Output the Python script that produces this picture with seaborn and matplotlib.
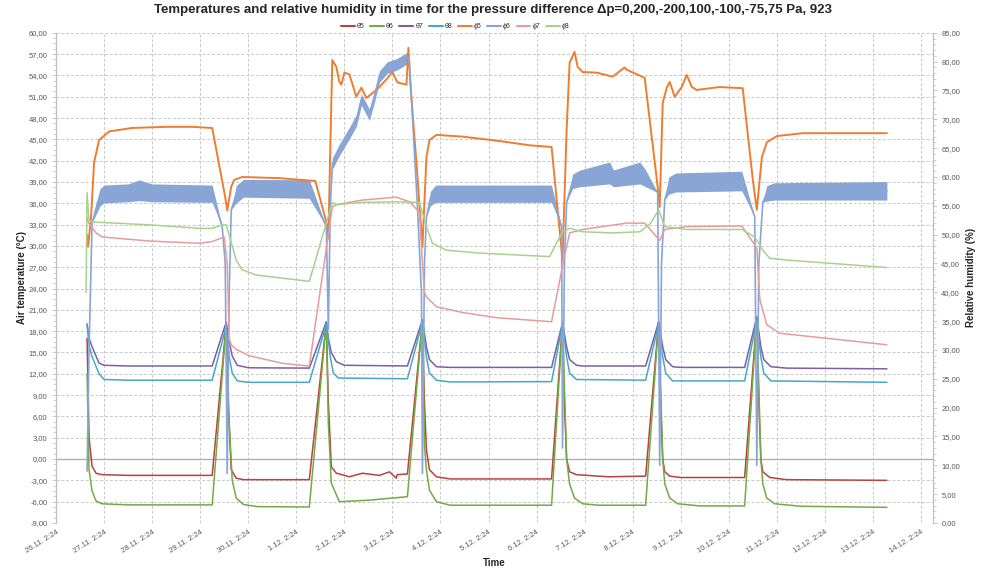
import pandas as pd
import seaborn as sns
import matplotlib.pyplot as plt
import matplotlib.ticker as mticker
from matplotlib.lines import Line2D

start = pd.Timestamp('2024-11-26 02:24')

# days since 26.11. 2:24 and air temperatures (°C)
t5_days = [0.646, 0.667, 0.6875, 0.75, 0.833, 0.958, 1.5, 3.25, 3.542, 3.583, 3.646, 3.75, 3.9, 5.271,
           5.625, 5.667, 5.729, 5.833, 5.896, 6.104, 6.375, 6.73, 6.94, 7.08, 7.1, 7.3125, 7.625, 7.667,
           7.708, 7.771, 7.917, 8.2, 10.3125, 10.54, 10.58, 10.625, 10.6875, 10.83, 11.5, 12.27, 12.54,
           12.583, 12.625, 12.667, 12.77, 13.0, 14.33, 14.583, 14.625, 14.667, 14.708, 14.854, 15.2, 17.29]
t5_vals = [17, 10, 3, -1.0, -2.0, -2.2, -2.3, -2.3, 19.0, 8, -1.5, -2.7, -2.9, -2.9,
           19.2, 8, -1.1, -2.0, -2.1, -2.5, -2.0, -2.3, -1.8, -2.7, -2.2, -2.1, 19.5, 7.9,
           1.3, -1.5, -2.5, -2.8, -2.8, 19.2, 8, 0, -1.8, -2.2, -2.5, -2.4, 19.3,
           8, 0, -1.8, -2.4, -2.6, -2.6, 20.0, 8, 0, -1.8, -2.6, -2.9, -3.0]

t6_days = [0.646, 0.6875, 0.75, 0.833, 0.958, 1.5, 3.25, 3.542, 3.604, 3.667, 3.75, 3.9, 4.2, 5.271,
           5.625, 5.667, 5.729, 5.896, 6.5, 7.3125, 7.625, 7.667, 7.708, 7.771, 7.917, 8.2, 10.3125,
           10.54, 10.625, 10.6875, 10.79, 10.96, 11.3, 12.27, 12.54, 12.625, 12.667, 12.771, 12.94, 13.4,
           14.33, 14.583, 14.667, 14.708, 14.79, 14.96, 15.5, 17.29]
t6_vals = [12, -1.5, -4.5, -5.9, -6.3, -6.45, -6.45, 19.0, 5, -3.0, -5.5, -6.4, -6.7, -6.75,
           19.2, 5, -3.4, -6.0, -5.8, -5.3, 19.5, 2, -1.5, -4.4, -6.0, -6.5, -6.5,
           19.2, 0, -3.5, -5.5, -6.3, -6.5, -6.5, 19.3, 0, -3.5, -5.5, -6.3, -6.6,
           -6.6, 20.0, 0, -3.5, -5.5, -6.3, -6.65, -6.8]

t7_days = [0.646, 0.6875, 0.75, 0.896, 1.0, 1.5, 3.25, 3.542, 3.604, 3.667, 3.771, 4.0, 5.271,
           5.625, 5.667, 5.729, 5.833, 6.0, 7.3125, 7.625, 7.708, 7.771, 7.917, 8.2, 10.3125,
           10.54, 10.625, 10.6875, 10.83, 10.96, 12.27, 12.54, 12.625, 12.6875, 12.83, 13.0, 14.33,
           14.583, 14.667, 14.729, 14.875, 15.2, 17.29]
t7_vals = [19, 17, 15.8, 13.5, 13.2, 13.1, 13.1, 19.3, 16.5, 14.5, 13.2, 12.85, 12.8,
           19.3, 17, 15.0, 13.7, 13.2, 13.1, 19.6, 15.8, 14.0, 13.0, 12.9, 12.9,
           19.2, 15.8, 14.0, 13.2, 13.1, 13.1, 19.3, 15.8, 14.0, 13.0, 12.9, 12.9,
           20.0, 15.8, 14.0, 13.0, 12.8, 12.7]

t8_days = [0.646, 0.6875, 0.75, 0.896, 1.0, 1.5, 3.25, 3.542, 3.604, 3.667, 3.771, 4.0, 5.271,
           5.625, 5.708, 5.771, 5.875, 7.3125, 7.625, 7.708, 7.771, 7.917, 8.2, 10.3125,
           10.54, 10.625, 10.6875, 10.83, 12.27, 12.54, 12.625, 12.6875, 12.83, 14.33,
           14.583, 14.667, 14.729, 14.875, 17.29]
t8_vals = [19, 16, 14.4, 12.0, 11.2, 11.1, 11.1, 18.7, 14.4, 12.1, 11.0, 10.8, 10.8,
           19.0, 14.4, 12.1, 11.4, 11.3, 19.3, 14.4, 12.1, 11.1, 10.85, 10.9,
           19.0, 14.4, 12.1, 11.2, 11.1, 19.0, 14.4, 12.1, 11.0, 11.0,
           19.5, 14.4, 12.1, 11.0, 10.8]

# relative humidity (%)
p5_days = [0.646, 0.667, 0.729, 0.792, 0.896, 1.104, 1.583, 2.292, 2.833, 3.25, 3.521, 3.5625, 3.646,
           3.708, 3.875, 4.646, 5.396, 5.625, 5.667, 5.708, 5.75, 5.833, 5.896, 5.9375, 6.0, 6.104,
           6.25, 6.354, 6.458, 6.667, 6.875, 7.0, 7.104, 7.292, 7.333, 7.375, 7.5, 7.625, 7.708,
           7.771, 7.917, 8.458, 9.167, 9.854, 10.3125, 10.54, 10.625, 10.6875, 10.79, 10.854,
           10.958, 11.25, 11.583, 11.833, 11.875, 12.25, 12.52, 12.5625, 12.625, 12.708, 12.771,
           12.875, 13.02, 13.125, 13.23, 13.333, 13.81, 14.29, 14.5, 14.583, 14.6875, 14.79,
           15.0, 15.54, 17.29]
p5_vals = [50, 47.9, 53.0, 62.5, 66.4, 67.9, 68.5, 68.7, 68.7, 68.5, 56.5, 54.2, 58.3,
           59.5, 60.0, 59.8, 59.3, 52.2, 49.3, 65, 80.3, 79.1, 76.5, 76.0, 78.1, 77.8,
           73.9, 75.5, 73.7, 75.1, 76.9, 78.2, 76.4, 76.0, 82.4, 76, 62.5, 47.9, 63.4,
           66.4, 67.3, 67.0, 66.3, 65.5, 65.2, 45.6, 68.1, 79.8, 81.7, 79.1,
           78.2, 78.1, 77.4, 79.0, 78.6, 77.2, 58.3, 54.8, 72.8, 75.5, 76.5,
           73.9, 75.6, 77.7, 75.6, 75.1, 75.6, 75.4, 59.5, 54.3, 63.4, 66.0,
           67.1, 67.6, 67.6]

# φ6 fluctuates, kept as lower / upper envelope
p6_days = [0.646, 0.6875, 0.75, 0.833, 0.917, 1.0, 1.5, 1.73, 2.0, 3.25, 3.458, 3.521, 3.5625, 3.604,
           3.646, 3.75, 3.9, 5.27, 5.625, 5.667, 5.708, 5.75, 5.896, 6.104, 6.25, 6.354, 6.521, 6.625,
           6.729, 6.896, 7.083, 7.25, 7.333, 7.354, 7.52, 7.604, 7.625, 7.667, 7.708, 7.79, 7.9,
           10.31, 10.52, 10.54, 10.58, 10.625, 10.75, 10.9, 11.52, 11.6, 12.15, 12.27, 12.52,
           12.5625, 12.6, 12.667, 12.75, 12.9, 14.27, 14.54, 14.583, 14.625, 14.708, 14.79, 14.95,
           17.29]
p6_low = [9, 30, 52.0, 53.5, 55, 55.5, 55.7, 55.9, 55.7, 55.6, 51.4, 45, 8.6, 40,
          54.3, 55.5, 56.5, 56.3, 51.4, 33.5, 55, 61.3, 63.7, 66.6, 68.8, 72.4, 69.8, 72.9,
          76.4, 78.0, 78.5, 79.3, 79.8, 80, 55, 40, 8.6, 45, 53.1, 55, 55.6,
          55.6, 51.4, 13, 45, 55.6, 58, 58.3, 58.8, 58.3, 58.8, 58.3, 57.3,
          10, 45, 56.0, 57, 57.4, 57.6, 53.1, 10, 45, 55.6, 55.8, 56.0,
          56.0]
p6_high = [9, 30, 52.0, 55.5, 58, 58.6, 58.8, 59.5, 58.8, 58.6, 51.4, 45, 8.6, 40,
           54.3, 58.5, 59.6, 59.5, 51.4, 33.5, 55, 63.3, 65.7, 68.6, 70.8, 74.4, 71.8, 74.9,
           78.4, 80.0, 80.5, 81.3, 81.8, 80, 55, 40, 8.6, 45, 53.1, 57.5, 58.6,
           58.6, 51.4, 13, 45, 55.6, 60.5, 61.2, 62.6, 61.2, 62.6, 61.2, 57.3,
           10, 45, 56.0, 60, 60.7, 61.0, 53.1, 10, 45, 55.6, 58.5, 59.0,
           59.2]

p7_days = [0.646, 0.667, 0.833, 0.958, 1.9375, 2.979, 3.25, 3.5, 3.5625, 3.604, 3.646, 3.75, 4.021,
           4.708, 5.271, 5.75, 5.833, 6.104, 6.375, 7.083, 7.354, 7.5625, 7.625, 7.667, 7.708,
           7.917, 8.458, 9.167, 10.3125, 10.58, 10.6875, 10.958, 11.875, 12.25, 12.5625, 12.667,
           13.125, 14.27, 14.583, 14.646, 14.79, 15.06, 17.29]
p7_vals = [53, 52.2, 50.3, 49.6, 48.9, 48.5, 48.8, 49.6, 45, 32, 30.9, 30.1, 29.0,
           27.7, 27.2, 54.8, 55.2, 55.6, 56.0, 56.5, 55.7, 53.9, 45, 40, 39.2,
           37.5, 36.5, 35.6, 34.9, 46.2, 50.3, 50.9, 52.0, 52.0, 49.0, 50.9,
           51.4, 51.5, 47.7, 38.7, 34.4, 32.9, 30.9]

p8_days = [0.625, 0.646, 0.6875, 0.75, 1.9375, 2.979, 3.25, 3.458, 3.542, 3.75, 3.875, 4.167, 5.271,
           5.75, 5.833, 6.375, 7.083, 7.5625, 7.708, 7.833, 8.125, 8.8125, 10.27, 10.54, 10.6875,
           10.958, 11.583, 12.15, 12.375, 12.54, 12.667, 13.125, 14.27, 14.54, 14.708, 14.854,
           15.2, 17.29]
p8_vals = [40, 57.3, 52.5, 52.2, 51.7, 51.1, 51.1, 51.7, 51.7, 45.6, 43.9, 43.0, 41.9,
           55.6, 55.2, 55.6, 55.7, 55.6, 51.4, 48.5, 47.3, 46.8, 46.2, 50.5, 51.1,
           50.5, 50.3, 50.5, 52.0, 54.3, 51.4, 50.9, 50.9, 49.6, 47.3, 45.9,
           45.6, 44.3]

names = ['θ5', 'θ6', 'θ7', 'θ8', 'ϕ5', 'ϕ6', 'ϕ7', 'ϕ8']
colors = ['#B8423C', '#72AB45', '#7C5EA6', '#45A9C6', '#ED7D31', '#88A5D6', '#E79C9C', '#A9D18E']
title = 'Temperatures and relative humidity in time for the pressure difference Δp=0,200,-200,100,-100,-75,75 Pa, 923'


def series(days, vals):
    return pd.DataFrame({'time': start + pd.to_timedelta(days, unit='D'), 'value': vals})


sns.set_style('white')
plt.rcParams['font.family'] = ['Liberation Sans', 'DejaVu Sans']

fig = plt.figure(figsize=(9.81, 5.78), dpi=100)
ax = fig.add_axes([0.0571, 0.0952, 0.894, 0.848])
ax2 = ax.twinx()

for (d, v), name, c in zip([(t5_days, t5_vals), (t6_days, t6_vals), (t7_days, t7_vals), (t8_days, t8_vals)],
                           names[:4], colors[:4]):
    sns.lineplot(data=series(d, v), x='time', y='value', color=c, linewidth=1.1,
                 estimator=None, legend=False, ax=ax)

sns.lineplot(data=series(p5_days, p5_vals), x='time', y='value', color=colors[4], linewidth=1.4,
             estimator=None, legend=False, ax=ax2)
band = pd.concat([series(p6_days, p6_low), series(p6_days, p6_high)], ignore_index=True)
sns.lineplot(data=band, x='time', y='value', color=colors[5], linewidth=1.2, estimator='mean',
             errorbar=('pi', 100), err_kws={'alpha': 1, 'linewidth': 0}, legend=False, ax=ax2)
for (d, v), c in zip([(p7_days, p7_vals), (p8_days, p8_vals)], colors[6:]):
    sns.lineplot(data=series(d, v), x='time', y='value', color=c, linewidth=1.1,
                 estimator=None, legend=False, ax=ax2)

comma = mticker.FuncFormatter(lambda v, p: f'{v:.2f}'.replace('.', ','))

# left axis
ax.set_ylim(-9, 60)
ax.yaxis.set_major_locator(mticker.MultipleLocator(3))
ax.yaxis.set_minor_locator(mticker.AutoMinorLocator(4))
ax.yaxis.set_major_formatter(comma)
ax.axhline(0, color='#b0b0b0', linewidth=1.0, zorder=1)

# time axis
ticks = pd.date_range(start, periods=19, freq='D')
ax.set_xlim(start, start + pd.Timedelta(days=18.25))
ax.set_xticks(ticks)
ax.set_xticklabels([f'{t.day}.{t.month}. {t.hour}:{t.minute:02d}' for t in ticks],
                   rotation=32, ha='right', rotation_mode='anchor')
ax.grid(True, which='major', color='#c8c8c8', linestyle=(0, (3, 2)), linewidth=0.7)
ax.set_axisbelow(True)

# right axis
ax2.set_ylim(0, 85)
ax2.yaxis.set_major_locator(mticker.MultipleLocator(5))
ax2.yaxis.set_minor_locator(mticker.AutoMinorLocator(5))
ax2.yaxis.set_major_formatter(comma)
ax2.grid(False)

for a in (ax, ax2):
    for s in ('top', 'bottom'):
        a.spines[s].set_visible(False)
    for s in ('left', 'right'):
        a.spines[s].set_color('#bfbfbf')
        a.spines[s].set_linewidth(0.9)
ax.spines['right'].set_visible(False)
ax2.spines['left'].set_visible(False)

ax.tick_params(axis='y', which='major', direction='out', length=3, width=0.6, color='#bfbfbf',
               labelsize=5.5, labelcolor='#595959', pad=3)
ax.tick_params(axis='y', which='minor', direction='out', length=2, width=0.5, color='#bfbfbf')
ax.tick_params(axis='x', length=0, labelsize=5.5, labelcolor='#595959', pad=4)
ax2.tick_params(axis='y', which='major', direction='out', length=3, width=0.6, color='#bfbfbf',
                labelsize=5.5, labelcolor='#595959', pad=3)
ax2.tick_params(axis='y', which='minor', direction='out', length=2, width=0.5, color='#bfbfbf')

ax.set_xlabel('Time', fontsize=7, fontweight='bold', labelpad=2)
ax.set_ylabel('Air temperature (°C)', fontsize=7, fontweight='bold', labelpad=1)
ax2.set_ylabel('Relative humidity (%)', fontsize=7, fontweight='bold', labelpad=4)

handles = [Line2D([], [], color=c, linewidth=1.5) for c in colors]
fig.legend(handles, names, loc='center', bbox_to_anchor=(0.464, 0.954), ncol=8, frameon=False,
           fontsize=5, handlelength=2.0, handletextpad=0.3, columnspacing=0.8)
fig.text(0.503, 0.982, title, ha='center', va='center', fontsize=9.5, fontweight='bold')

fig.savefig('out.png', dpi=100)
